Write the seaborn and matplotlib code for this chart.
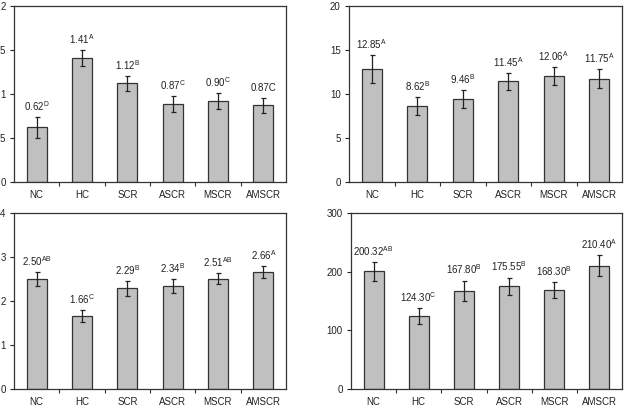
import numpy as np
import pandas as pd
import seaborn as sns
import matplotlib
matplotlib.use("Agg")
import matplotlib.pyplot as plt
from matplotlib.ticker import FixedLocator

groups = ["NC", "HC", "SCR", "ASCR", "MSCR", "AMSCR"]

# panel 1 (top left)
v1 = [0.62, 1.41, 1.12, 0.89, 0.92, 0.87]
e1 = [0.12, 0.09, 0.085, 0.09, 0.09, 0.09]
n1 = ["0.62", "1.41", "1.12", "0.87", "0.90", "0.87C"]
s1 = ["D", "A", "B", "C", "C", ""]

# panel 2 (top right)
v2 = [12.85, 8.62, 9.46, 11.45, 12.06, 11.75]
e2 = [1.55, 1.0, 1.0, 0.95, 1.0, 1.05]
n2 = ["12.85", "8.62", "9.46", "11.45", "12.06", "11.75"]
s2 = ["A", "B", "B", "A", "A", "A"]

# panel 3 (bottom left)
v3 = [2.50, 1.66, 2.29, 2.34, 2.51, 2.66]
e3 = [0.16, 0.135, 0.165, 0.165, 0.13, 0.135]
n3 = ["2.50", "1.66", "2.29", "2.34", "2.51", "2.66"]
s3 = ["AB", "C", "B", "B", "AB", "A"]

# panel 4 (bottom right)
v4 = [200.32, 124.30, 167.80, 175.55, 168.30, 210.40]
e4 = [16, 13, 17, 14.5, 14, 17.5]
n4 = ["200.32", "124.30", "167.80", "175.55", "168.30", "210.40"]
s4 = ["AB", "C", "B", "B", "B", "A"]

sns.set_theme(style="ticks")
plt.rcParams["font.family"] = ["Liberation Sans", "DejaVu Sans"]
plt.rcParams["mathtext.fontset"] = "custom"
plt.rcParams["mathtext.rm"] = "Liberation Sans"

fig = plt.figure(figsize=(6.24, 4.11), dpi=100)
W, H = 624, 411


def box(x0, x1, y0, y1):
    return [x0 / W, 1 - y1 / H, (x1 - x0) / W, (y1 - y0) / H]


panels = [
    (box(14, 286, 6, 182), v1, e1, n1, s1, 2, [0, 0.5, 1, 1.5, 2], ["0", "0.5", "1", "1.5", "2"]),
    (box(349, 622, 6, 182), v2, e2, n2, s2, 20, [0, 5, 10, 15, 20], None),
    (box(14, 286, 213, 389), v3, e3, n3, s3, 4, [0, 1, 2, 3, 4], None),
    (box(351, 622, 213, 389), v4, e4, n4, s4, 300, [0, 100, 200, 300], None),
]

for rect, vals, errs, nums, sups, ymax, yt, ytl in panels:
    ax = fig.add_axes(rect)
    df = pd.DataFrame({"group": groups, "value": vals})
    sns.barplot(data=df, x="group", y="value", ax=ax, color="#c0c0c0",
                saturation=1, width=0.44, edgecolor="#333333", linewidth=0.9)
    ax.errorbar(np.arange(len(groups)), vals, yerr=errs, fmt="none",
                ecolor="#222222", elinewidth=0.9, capsize=1.8, capthick=0.9)
    for i, (v, e, n, s) in enumerate(zip(vals, errs, nums, sups)):
        lab = n if not s else n + r"$^{\mathregular{" + s + "}}$"
        ax.annotate(lab, (i, v + e), xytext=(0, 3), textcoords="offset points",
                    ha="center", va="bottom", fontsize=7, color="#222222")
    ax.set_xlim(-0.5, 5.5)
    ax.set_ylim(0, ymax)
    ax.set_yticks(yt)
    if ytl:
        ax.set_yticklabels(ytl)
    ax.set_xlabel("")
    ax.set_ylabel("")
    ax.tick_params(axis="x", which="major", length=0, pad=6, labelsize=7, colors="#222222")
    ax.xaxis.set_minor_locator(FixedLocator([0.5, 1.5, 2.5, 3.5, 4.5]))
    ax.tick_params(axis="x", which="minor", length=3, width=0.8, direction="out", color="#333333")
    ax.tick_params(axis="y", length=3, width=0.8, direction="out", labelsize=7, pad=3, colors="#222222")
    for sp in ax.spines.values():
        sp.set_visible(True)
        sp.set_linewidth(0.9)
        sp.set_color("#333333")

fig.savefig("out.png", dpi=100)
